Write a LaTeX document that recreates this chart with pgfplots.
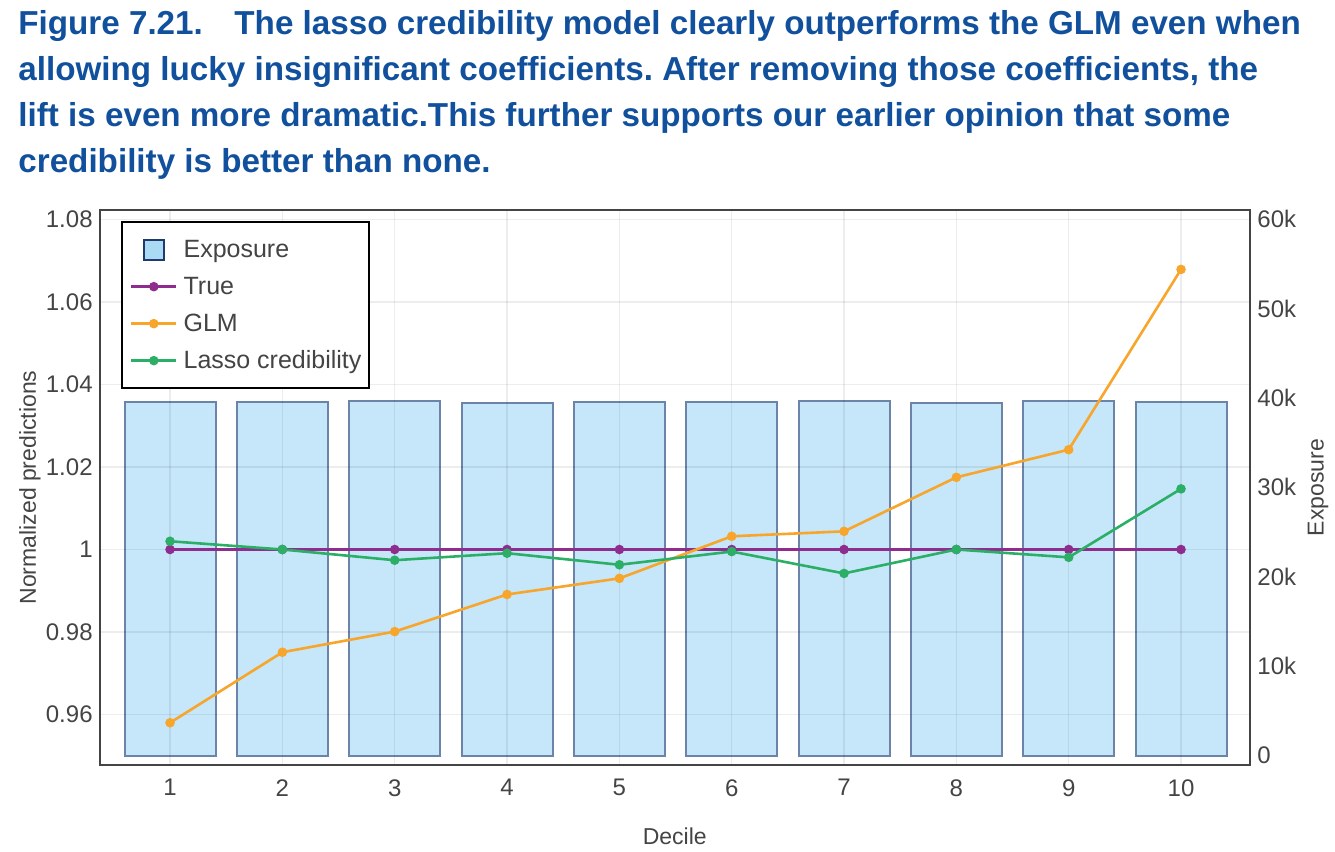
\documentclass[border=0pt]{standalone}
\usepackage{pgfplots}
\pgfplotsset{compat=1.18}
\usepackage{fontspec}
\setmainfont{Liberation Sans}
\frenchspacing
\definecolor{titleblue}{HTML}{11509C}
\definecolor{txt}{HTML}{444444}
\definecolor{barfill}{HTML}{C5E7F9}
\definecolor{bardraw}{HTML}{6C84A8}
\definecolor{legfill}{HTML}{A9DBF5}
\definecolor{legdraw}{HTML}{22396B}
\definecolor{ctrue}{HTML}{8E2D8E}
\definecolor{cglm}{HTML}{F7A52B}
\definecolor{classo}{HTML}{2BAF66}
\begin{document}
\begin{tikzpicture}
\path[use as bounding box] (0,0) rectangle (667.5bp,426bp);
\begin{scope}[every node/.style={anchor=base west, inner sep=0pt, text=titleblue, font=\fontsize{16.6bp}{23bp}\selectfont\bfseries}]
\node at (9bp,408.5bp) {Figure 7.21.\hspace{0.95em}The lasso credibility model clearly outperforms the GLM even when};
\node at (9bp,385.5bp) {allowing lucky insignificant coefficients. After removing those coefficients, the};
\node at (9bp,362.5bp) {lift is even more dramatic.This further supports our earlier opinion that some};
\node at (9bp,339.5bp) {credibility is better than none.};
\end{scope}
% bars / right axis
\begin{axis}[
  at={(49.75bp,43.5bp)}, anchor=south west, scale only axis,
  width=575.25bp, height=277.5bp,
  xmin=0.372, xmax=10.614, ymin=-1040, ymax=61006,
  axis line style={draw=none},
  xtick=\empty,
  yticklabel pos=right,
  scaled y ticks=false,
  ytick={0,10000,20000,30000,40000,50000,60000},
  yticklabels={0,10k,20k,30k,40k,50k,60k},
  major tick length=0pt,
  yticklabel style={inner sep=0pt, xshift=3.5bp, font=\fontsize{12bp}{14bp}\selectfont, text=txt},
  ylabel={Exposure},
  ylabel style={at={(axis description cs:1.0591,0.5)}, anchor=center, font=\fontsize{11.5bp}{14bp}\selectfont, text=txt},
]
\addplot[ybar, bar width=0.81, fill=barfill, draw=bardraw, line width=1bp] coordinates {
(1,39500) (2,39500) (3,39650) (4,39450) (5,39500) (6,39500) (7,39650) (8,39450) (9,39650) (10,39500)};
\end{axis}
% lines / left axis
\begin{axis}[
  at={(49.75bp,43.5bp)}, anchor=south west, scale only axis,
  width=575.25bp, height=277.5bp,
  xmin=0.372, xmax=10.614, ymin=0.94776, ymax=1.0823,
  axis line style={draw=txt, line width=1bp},
  xtick={1,2,3,4,5,6,7,8,9,10},
  xticklabels={1,2,3,4,5,6,7,8,9,10},
  ytick={0.96,0.98,1,1.02,1.04,1.06,1.08},
  yticklabels={0.96,0.98,1,1.02,1.04,1.06,1.08},
  major tick length=0pt,
  grid=major,
  major grid style={draw=black, opacity=0.07, line width=0.75bp},
  xticklabel style={inner sep=0pt, yshift=-7bp, font=\fontsize{12bp}{14bp}\selectfont, text=txt},
  yticklabel style={inner sep=0pt, xshift=-3.25bp, font=\fontsize{12bp}{14bp}\selectfont, text=txt},
  xlabel={Decile},
  xlabel style={at={(axis description cs:0.5,-0.128)}, anchor=center, font=\fontsize{11.5bp}{14bp}\selectfont, text=txt},
  ylabel={Normalized predictions},
  ylabel style={at={(axis description cs:-0.0604,0.5)}, anchor=center, font=\fontsize{11.5bp}{14bp}\selectfont, text=txt},
  legend image code/.code={\draw[#1, mark repeat=2, mark phase=2] plot coordinates {(0bp,0bp) (11.25bp,0bp) (22.5bp,0bp)};},
  legend cell align=left,
  legend style={at={(0.01869,0.9802)}, anchor=north west, draw=black, line width=1bp, fill=white,
    font=\fontsize{12.5bp}{14bp}\selectfont, text=txt,
    inner xsep=4bp, inner ysep=8.2bp, row sep=7.2bp,
    nodes={inner sep=0pt},
    /tikz/every odd column/.append style={column sep=3bp}},
]
\addlegendimage{legend image code/.code={\path[draw=none,fill=none] (0bp,0bp) -- (22.5bp,0bp); \draw[fill=legfill, draw=legdraw, line width=1bp] (6.5bp,-5bp) rectangle (16.5bp,5bp);}}
\addlegendentry{\strut Exposure}
\addplot[color=ctrue, line width=1.3bp, mark=*, mark size=1.7bp] coordinates {
(1,1) (2,1) (3,1) (4,1) (5,1) (6,1) (7,1) (8,1) (9,1) (10,1)};
\addlegendentry{\strut True}
\addplot[color=cglm, line width=1.3bp, mark=*, mark size=1.7bp] coordinates {
(1,0.9580) (2,0.9751) (3,0.9801) (4,0.9891) (5,0.9930) (6,1.0032) (7,1.0044) (8,1.0175) (9,1.0242) (10,1.0679)};
\addlegendentry{\strut GLM}
\addplot[color=classo, line width=1.3bp, mark=*, mark size=1.7bp] coordinates {
(1,1.0020) (2,1.0000) (3,0.9974) (4,0.9991) (5,0.9963) (6,0.9995) (7,0.9942) (8,1.0000) (9,0.9981) (10,1.0147)};
\addlegendentry{\strut Lasso credibility}
\end{axis}
\end{tikzpicture}
\end{document}
